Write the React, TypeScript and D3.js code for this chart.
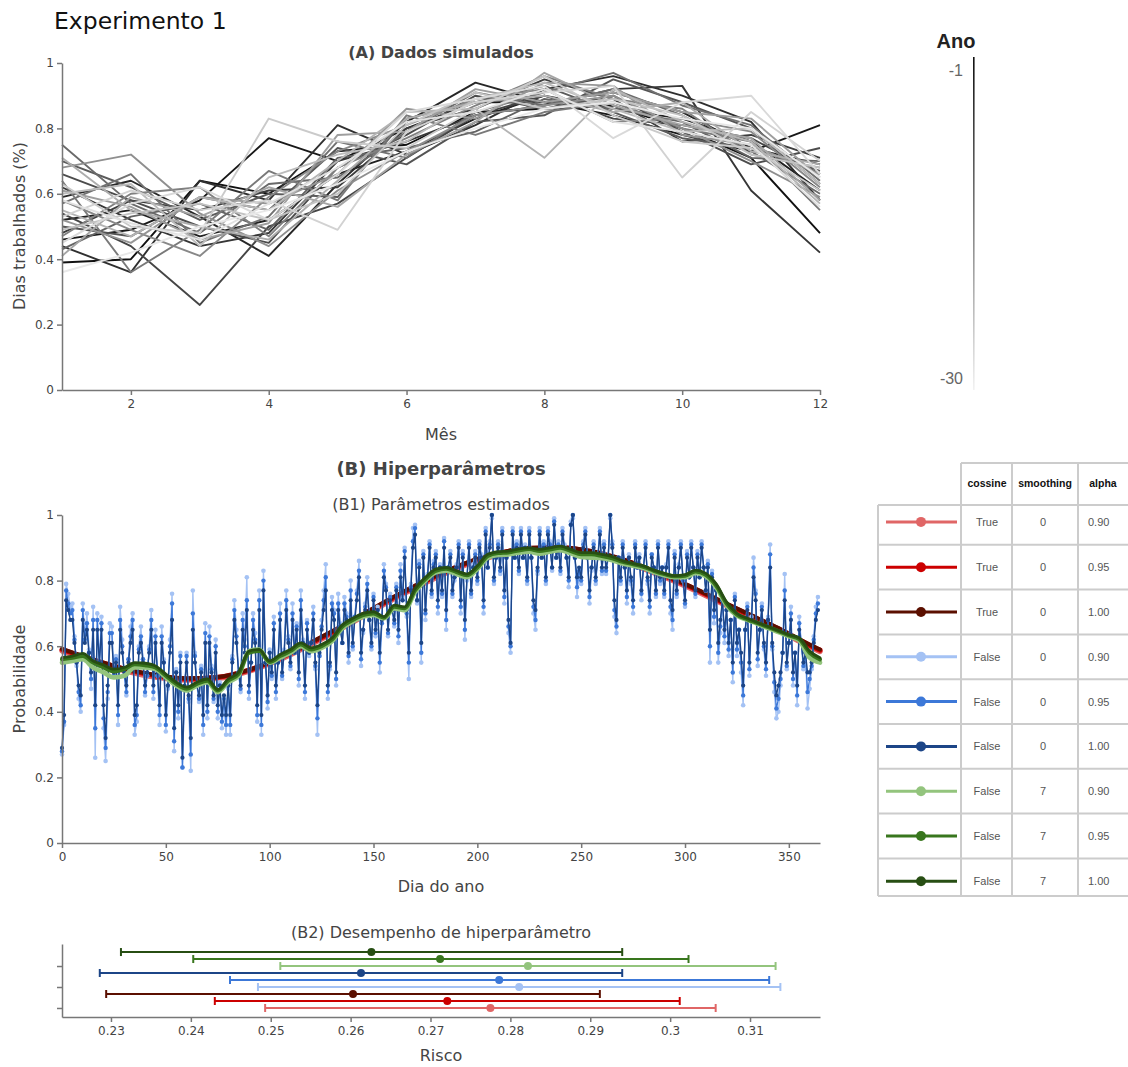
import React, { useEffect, useRef } from 'react';
import * as d3 from 'd3';

// ---------- panel A: simulated monthly data, one row per year (-1 .. -30), percent ----------
const months = [1, 2, 3, 4, 5, 6, 7, 8, 9, 10, 11, 12];
const simulatedYears = [
  [39, 40, 64, 60, 73, 75, 85, 86, 87, 80, 71, 48],
  [46, 49, 58, 77, 70, 80, 88, 88, 84, 78, 73, 81],
  [52, 55, 47, 52, 66, 73, 83, 90, 86, 83, 76, 61],
  [59, 64, 53, 41, 63, 82, 94, 88, 91, 85, 74, 69],
  [44, 36, 64, 58, 81, 72, 81, 92, 96, 90, 82, 58],
  [62, 52, 44, 48, 70, 76, 84, 87, 92, 93, 61, 42],
  [48, 58, 55, 61, 62, 80, 86, 95, 89, 76, 78, 71],
  [54, 44, 26, 50, 57, 71, 84, 90, 83, 81, 77, 66],
  [66, 58, 50, 45, 68, 78, 90, 86, 90, 79, 69, 74],
  [50, 47, 59, 55, 74, 69, 82, 84, 95, 88, 80, 63],
  [70, 62, 52, 60, 59, 83, 88, 93, 85, 77, 74, 67],
  [43, 53, 57, 49, 71, 74, 79, 89, 86, 82, 71, 70],
  [75, 57, 48, 63, 65, 79, 91, 87, 92, 84, 73, 60],
  [57, 66, 45, 53, 76, 71, 85, 91, 97, 87, 81, 64],
  [64, 36, 49, 67, 58, 84, 78, 85, 88, 80, 76, 55],
  [47, 60, 62, 47, 68, 77, 87, 96, 89, 86, 72, 68],
  [58, 49, 41, 59, 73, 81, 89, 92, 82, 83, 79, 62],
  [68, 72, 54, 44, 61, 73, 84, 87, 90, 80, 70, 59],
  [52, 45, 59, 57, 66, 86, 83, 94, 93, 78, 75, 66],
  [61, 56, 46, 51, 78, 79, 92, 88, 91, 85, 83, 65],
  [41, 59, 53, 62, 56, 72, 82, 97, 87, 81, 77, 58],
  [71, 55, 50, 46, 64, 83, 88, 90, 85, 88, 73, 69],
  [55, 47, 59, 55, 70, 85, 86, 71, 92, 82, 76, 57],
  [60, 63, 44, 65, 72, 76, 89, 94, 86, 79, 80, 63],
  [49, 54, 57, 52, 60, 81, 91, 86, 89, 84, 72, 68],
  [63, 50, 48, 83, 76, 74, 86, 96, 84, 76, 74, 61],
  [53, 61, 55, 58, 49, 79, 88, 91, 93, 65, 85, 70],
  [45, 57, 62, 52, 66, 85, 89, 93, 77, 88, 90, 66],
  [58, 51, 46, 57, 68, 82, 85, 92, 82, 79, 75, 56],
  [36, 42, 50, 55, 63, 73, 80, 86, 88, 83, 80, 65],
];

// ---------- panel B1: daily estimates (percent), index = day of year ----------
const blueDark = [
  29, 39, 74, 71, 68, 68, 61, 55, 48, 45, 68, 61, 65, 58, 52, 65, 42, 65, 55, 65,
  42, 32, 48, 61, 61, 52, 55, 42, 65, 58, 52, 48, 55, 61, 65, 39, 42, 58, 61, 55,
  48, 52, 58, 65, 48, 61, 52, 42, 61, 55, 39, 48, 58, 68, 35, 52, 42, 55, 26, 48,
  55, 45, 32, 65, 55, 48, 45, 52, 39, 61, 42, 61, 52, 45, 58, 42, 48, 39, 45, 39,
  48, 39, 55, 68, 61, 52, 48, 65, 58, 71, 48, 55, 65, 61, 42, 71, 39, 77, 55, 45,
  58, 52, 65, 48, 55, 68, 52, 58, 71, 61, 55, 68, 58, 65, 52, 71, 61, 48, 65, 58,
  61, 68, 55, 42, 58, 65, 71, 77, 48, 55, 71, 68, 52, 71, 65, 61, 71, 68, 58, 74,
  61, 68, 74, 81, 58, 65, 71, 77, 68, 61, 74, 65, 71, 58, 68, 81, 77, 65, 74, 71,
  68, 77, 65, 81, 74, 87, 71, 58, 77, 90, 94, 74, 84, 61, 87, 71, 81, 90, 77, 84,
  87, 74, 84, 77, 90, 71, 84, 87, 77, 81, 84, 90, 74, 87, 68, 81, 90, 77, 84, 87,
  81, 90, 87, 74, 94, 84, 90, 100, 81, 87, 90, 84, 94, 77, 87, 68, 61, 94, 87, 90,
  84, 94, 87, 90, 81, 94, 87, 74, 71, 84, 94, 87, 90, 81, 94, 90, 84, 97, 87, 90,
  84, 94, 90, 87, 81, 97, 100, 87, 81, 84, 81, 90, 94, 87, 77, 84, 90, 81, 87, 94,
  84, 90, 84, 87, 100, 90, 74, 68, 87, 81, 90, 84, 77, 87, 81, 74, 90, 84, 87, 77,
  84, 90, 81, 74, 87, 84, 77, 90, 81, 84, 77, 84, 90, 74, 71, 87, 77, 84, 90, 81,
  74, 87, 81, 90, 84, 77, 87, 81, 90, 84, 77, 84, 65, 81, 71, 77, 61, 68, 74, 65,
  71, 61, 68, 55, 74, 61, 65, 58, 48, 65, 71, 55, 68, 81, 74, 58, 65, 71, 61, 55,
  68, 84, 61, 52, 45, 48, 52, 58, 74, 55, 61, 68, 52, 58, 48, 65, 61, 55, 58, 52,
  52, 55, 61, 68, 71,
];
const blueMid = [
  28, 37, 77, 73, 70, 71, 62, 55, 46, 42, 71, 62, 67, 58, 50, 68, 35, 68, 55, 67,
  38, 29, 46, 64, 64, 51, 56, 39, 68, 60, 51, 46, 56, 63, 68, 36, 39, 59, 63, 56,
  46, 51, 59, 68, 46, 63, 51, 39, 63, 55, 36, 48, 60, 73, 31, 52, 40, 57, 23, 47,
  57, 44, 27, 70, 57, 48, 44, 53, 36, 64, 40, 63, 53, 44, 60, 40, 48, 37, 44, 36,
  48, 36, 56, 71, 63, 52, 47, 68, 60, 74, 46, 55, 68, 62, 39, 74, 36, 80, 55, 43,
  58, 51, 67, 46, 55, 70, 51, 58, 74, 62, 54, 70, 58, 66, 50, 74, 61, 46, 67, 58,
  61, 70, 54, 38, 57, 66, 74, 81, 46, 54, 73, 70, 50, 73, 66, 61, 73, 69, 57, 77,
  60, 69, 76, 83, 56, 65, 72, 79, 68, 60, 75, 64, 71, 55, 67, 83, 78, 64, 75, 71,
  67, 78, 63, 83, 74, 89, 70, 55, 78, 92, 96, 74, 85, 58, 88, 70, 81, 91, 76, 85,
  88, 72, 84, 76, 92, 68, 84, 88, 76, 81, 84, 91, 72, 88, 65, 81, 91, 76, 84, 88,
  80, 91, 87, 72, 95, 84, 91, 100, 80, 87, 91, 83, 95, 75, 87, 66, 60, 95, 87, 91,
  83, 95, 87, 90, 80, 95, 87, 72, 68, 83, 95, 87, 91, 80, 95, 91, 84, 98, 87, 91,
  83, 95, 90, 87, 80, 97, 100, 87, 78, 83, 80, 91, 95, 87, 75, 84, 91, 80, 87, 95,
  83, 91, 83, 87, 100, 91, 71, 66, 87, 80, 91, 84, 75, 87, 80, 72, 91, 84, 87, 76,
  84, 91, 80, 72, 88, 84, 76, 91, 80, 84, 76, 84, 91, 72, 68, 88, 76, 84, 91, 80,
  73, 88, 81, 91, 84, 76, 88, 81, 91, 84, 77, 85, 60, 82, 69, 77, 58, 66, 74, 63,
  71, 59, 68, 52, 75, 59, 65, 55, 45, 65, 72, 53, 68, 84, 76, 56, 65, 72, 60, 53,
  68, 88, 60, 49, 41, 44, 50, 58, 77, 54, 61, 70, 50, 58, 45, 67, 61, 54, 58, 46,
  50, 54, 62, 70, 73,
];
const blueLight = [
  27, 36, 79, 76, 72, 73, 63, 54, 44, 40, 73, 63, 70, 59, 47, 72, 26, 70, 54, 69,
  35, 25, 44, 67, 66, 51, 57, 36, 72, 62, 51, 45, 56, 66, 70, 33, 37, 60, 66, 56,
  45, 51, 60, 71, 44, 65, 51, 36, 66, 56, 34, 47, 62, 76, 28, 53, 38, 58, 23, 47,
  58, 43, 22, 77, 58, 48, 43, 54, 33, 67, 38, 66, 54, 43, 62, 38, 49, 35, 43, 33,
  47, 33, 57, 74, 65, 52, 46, 70, 62, 81, 44, 55, 70, 64, 37, 77, 33, 83, 55, 41,
  59, 50, 69, 44, 55, 73, 50, 59, 77, 63, 53, 73, 58, 67, 48, 77, 62, 44, 68, 57,
  61, 72, 53, 33, 57, 68, 77, 85, 44, 53, 75, 71, 48, 76, 67, 61, 75, 70, 55, 80,
  59, 69, 77, 86, 54, 64, 73, 81, 68, 59, 76, 63, 72, 52, 67, 85, 79, 63, 76, 71,
  66, 79, 61, 85, 75, 90, 69, 50, 79, 96, 97, 73, 86, 55, 89, 68, 82, 92, 75, 86,
  89, 70, 85, 75, 93, 65, 84, 89, 75, 80, 85, 92, 70, 89, 62, 80, 92, 75, 85, 89,
  79, 92, 88, 70, 96, 84, 92, 99, 79, 87, 92, 82, 96, 73, 87, 64, 58, 96, 87, 92,
  82, 96, 87, 91, 79, 96, 87, 70, 65, 82, 96, 87, 92, 79, 96, 92, 83, 99, 87, 92,
  82, 96, 91, 87, 78, 98, 99, 87, 75, 82, 79, 92, 96, 87, 73, 83, 92, 79, 87, 96,
  82, 92, 82, 87, 99, 92, 69, 64, 87, 79, 92, 84, 73, 88, 79, 70, 92, 84, 88, 74,
  84, 92, 79, 70, 88, 84, 75, 92, 79, 84, 75, 85, 92, 70, 65, 89, 75, 85, 92, 80,
  72, 89, 81, 92, 84, 75, 89, 81, 92, 84, 77, 86, 55, 83, 67, 77, 55, 64, 74, 61,
  71, 57, 68, 49, 76, 57, 65, 52, 42, 65, 73, 51, 69, 87, 77, 54, 65, 73, 59, 51,
  69, 91, 59, 46, 38, 40, 48, 58, 82, 53, 61, 72, 48, 58, 42, 69, 61, 53, 58, 41,
  47, 53, 63, 72, 75,
];

// smoothed (7 days) estimates, read every 5 days
const smoothDays = d3.range(0, 366, 5);
const greenDark = [
  56.5, 57, 57.8, 55.5, 54.3, 53, 53.5, 55, 54.8, 54, 51.5, 49, 47.5, 49, 50, 46.8, 50, 52, 58.5, 59,
  55.5, 57.5, 59, 61, 59.5, 60.5, 62.5, 66.5, 68.5, 70, 70.5, 69, 72.5, 72, 77.5, 81, 83.5, 84, 83, 82,
  84.5, 88, 88.8, 89, 89.7, 90, 89.5, 90, 90.5, 89.5, 88.5, 88.5, 88, 87.3, 86, 85.2, 84.5, 83.2, 82.2, 81.5,
  81.8, 83.2, 82.2, 79, 73.5, 70, 68.5, 67.2, 66, 64.8, 63.5, 62.5, 58.5, 56.5,
];
const greenMid = [
  56, 56.5, 57, 55, 53.5, 52.3, 53, 54.5, 54.2, 53.5, 51, 48.5, 47, 48.5, 49.5, 46.5, 49.5, 51.5, 58, 58.5,
  55.2, 57, 58.5, 60.5, 59, 60, 62, 66, 68, 69.5, 70, 68.7, 72, 71.6, 77, 80.5, 83, 83.6, 82.6, 81.6,
  84, 87.5, 88.4, 88.6, 89.2, 89.6, 89, 89.5, 90, 89, 88, 88, 87.5, 86.8, 85.7, 85, 84.2, 83, 82, 81.3,
  81.5, 82.8, 81.8, 78.5, 73, 69.6, 68.2, 67, 65.8, 64.6, 63.3, 62.2, 58, 56,
];
const greenLight = [
  55, 55.5, 56, 53.5, 52, 50.5, 51, 53.5, 53.5, 53, 50.5, 48, 46.5, 48, 49, 46, 49, 51, 58.5, 59,
  55, 56.5, 58, 60, 58.5, 59.5, 61.5, 65.5, 67.5, 69, 69.5, 68.5, 71.5, 71, 76.5, 80, 82.5, 83, 82, 81,
  83.5, 87, 87.8, 88, 88.5, 88.8, 88.2, 88.8, 89.3, 88.3, 87.2, 87, 86.8, 86.2, 85.2, 84.5, 83.8, 82.6, 81.6, 81,
  81, 82.3, 81.3, 78, 72.5, 69.3, 68, 66.8, 65.5, 64.3, 63, 61.8, 56.5, 55,
];

// cosine fits, read every 15 days
const cosDays = [0, 15, 30, 45, 60, 75, 90, 105, 120, 135, 150, 165, 180, 195, 210, 225, 240, 255, 270, 285, 300, 315, 330, 345, 360, 365];
const redDark = [59.2, 56, 53.2, 51.2, 50.2, 50.6, 52.8, 56.5, 61.2, 66.2, 71.6, 76.8, 81.5, 85.5, 88.4, 90, 90.2, 89, 86.5, 83, 79, 74.5, 70, 65.5, 60.5, 59];
const redMid = [59, 55.8, 53, 51, 50, 50.5, 52.7, 56.4, 61, 66, 71.4, 76.6, 81.3, 85.3, 88.2, 89.8, 90, 88.8, 86.3, 82.8, 78.8, 74.3, 69.8, 65.3, 60.3, 58.8];
const redLight = [58.6, 55.4, 52.6, 50.6, 49.7, 50.2, 52.4, 56, 60.6, 65.6, 71, 76.2, 80.9, 84.9, 87.8, 89.4, 89.6, 88.4, 85.9, 82.4, 78.4, 73.9, 69.4, 64.9, 59.9, 58.4];

// ---------- table / B2: hyperparameter combinations ----------
const cosineCol = ['True', 'True', 'True', 'False', 'False', 'False', 'False', 'False', 'False'];
const smoothingCol = ['0', '0', '0', '0', '0', '0', '7', '7', '7'];
const alphaCol = ['0.90', '0.95', '1.00', '0.90', '0.95', '1.00', '0.90', '0.95', '1.00'];
const seriesColors = ['#e06666', '#cc0000', '#5b0f00', '#a4c2f4', '#3c78d8', '#1c4587', '#93c47d', '#38761d', '#274e13'];
const riskLow = [0.2493, 0.2430, 0.2294, 0.2484, 0.2449, 0.2286, 0.2512, 0.2403, 0.23125];
const riskMean = [0.2775, 0.2721, 0.2603, 0.2811, 0.2786, 0.2613, 0.2822, 0.2712, 0.2626];
const riskHigh = [0.3057, 0.3012, 0.2912, 0.3138, 0.3124, 0.2940, 0.3132, 0.3023, 0.2940];
const riskGroup = [0, 0, 0, 1, 1, 1, 2, 2, 2];
const riskOffset = [0, 1 / 3, 2 / 3, 0, 1 / 3, 2 / 3, 0, 1 / 3, 2 / 3];

const FONT = '"DejaVu Sans", Verdana, sans-serif';
const ARIAL = '"Liberation Sans", Arial, sans-serif';
const AXIS = '#777';

const styleAxis = (g) => {
  g.select('.domain').attr('stroke', AXIS).attr('stroke-width', 1.5);
  g.selectAll('.tick line').attr('stroke', AXIS).attr('stroke-width', 1.5);
  g.selectAll('.tick text').attr('fill', '#444').style('font-family', FONT).style('font-size', '12px');
};

const App = () => {
  const svgRef = useRef(null);

  useEffect(() => {
    const svg = d3.select(svgRef.current);
    svg.selectAll('*').remove();

    const text = (x, y, s, size, opts: any = {}) =>
      svg.append('text')
        .attr('x', x).attr('y', y)
        .attr('text-anchor', opts.anchor || 'middle')
        .attr('fill', opts.fill || '#444')
        .attr('font-weight', opts.bold ? 'bold' : 'normal')
        .attr('transform', opts.rotate ? `rotate(-90, ${x}, ${y})` : null)
        .style('font-family', opts.font || FONT)
        .style('font-size', `${size}px`)
        .text(s);

    text(54, 29, 'Experimento 1', 23.5, { anchor: 'start', fill: '#111' });

    // ---------------- Panel A ----------------
    text(441, 58, '(A) Dados simulados', 16, { bold: true });
    const xA = d3.scaleLinear().domain([1, 12]).range([62, 820]);
    const yA = d3.scaleLinear().domain([0, 1]).range([390, 63]);
    const greyScale = d3.scaleLinear<string>().domain([1, 30]).range(['#111111', '#e8e8e8']).interpolate(d3.interpolateRgb);

    const lineA = d3.line<number>().x((_, i) => xA(months[i])).y(v => yA(v / 100));
    simulatedYears.forEach((row, k) => {
      svg.append('path')
        .attr('d', lineA(row))
        .attr('fill', 'none')
        .attr('stroke', greyScale(k + 1))
        .attr('stroke-width', 1.9)
        .attr('stroke-linejoin', 'round');
    });

    svg.append('g').attr('transform', 'translate(0,390)')
      .call(d3.axisBottom(xA).tickValues([2, 4, 6, 8, 10, 12]).tickSize(5).tickSizeOuter(0).tickPadding(4))
      .call(styleAxis);
    svg.append('g').attr('transform', 'translate(62,0)')
      .call(d3.axisLeft(yA).tickValues([0, 0.2, 0.4, 0.6, 0.8, 1]).tickFormat(d3.format('~g')).tickSize(5).tickSizeOuter(0).tickPadding(3))
      .call(styleAxis);
    text(441, 440, 'Mês', 16);
    text(25, 226, 'Dias trabalhados (%)', 16, { rotate: true });

    // colorbar
    const grad = svg.append('defs').append('linearGradient')
      .attr('id', 'anoGrad').attr('x1', 0).attr('y1', 0).attr('x2', 0).attr('y2', 1);
    grad.append('stop').attr('offset', '0%').attr('stop-color', greyScale(1));
    grad.append('stop').attr('offset', '100%').attr('stop-color', '#f2f2f2');
    const yBar = d3.scaleLinear().domain([-1, -30]).range([70, 378]);
    svg.append('rect').attr('x', 973).attr('y', 57).attr('width', 1.6).attr('height', 333).attr('fill', 'url(#anoGrad)');
    text(956, 48, 'Ano', 20, { bold: true, fill: '#222', font: ARIAL });
    [-1, -30].forEach(v => text(963, yBar(v) + 6, String(v), 16, { anchor: 'end', fill: '#666', font: ARIAL }));

    // ---------------- Panel B1 ----------------
    text(441, 475, '(B) Hiperparâmetros', 18, { bold: true });
    text(441, 510, '(B1) Parâmetros estimados', 16);
    const xB = d3.scaleLinear().domain([0, 365]).range([62, 820]);
    const yB = d3.scaleLinear().domain([0, 1]).range([843, 515]);

    const smoothLine = (days) => d3.line<number>().x((_, i) => xB(days[i])).y(v => yB(v / 100)).curve(d3.curveMonotoneX);
    const plot = svg.append('g');

    [[redLight, seriesColors[0], 5.5], [redMid, seriesColors[1], 5], [redDark, seriesColors[2], 4]].forEach(([vals, col, w]: any) => {
      plot.append('path').attr('d', smoothLine(cosDays)(vals))
        .attr('fill', 'none').attr('stroke', col).attr('stroke-width', w).attr('stroke-linecap', 'round');
    });

    const dailyLine = d3.line<number>().x((_, i) => xB(i)).y(v => yB(v / 100));
    [[blueLight, seriesColors[3], 1.4, 2.3], [blueMid, seriesColors[4], 1.3, 2.2], [blueDark, seriesColors[5], 1.3, 2.1]].forEach(([vals, col, w, r]: any) => {
      plot.append('path').attr('d', dailyLine(vals))
        .attr('fill', 'none').attr('stroke', col).attr('stroke-width', w).attr('stroke-linejoin', 'round');
      plot.append('g').selectAll('circle').data(vals).join('circle')
        .attr('cx', (_, i) => xB(i)).attr('cy', (v: number) => yB(v / 100)).attr('r', r).attr('fill', col);
    });

    [[greenLight, seriesColors[6], 4.6], [greenMid, seriesColors[7], 4], [greenDark, seriesColors[8], 2.8]].forEach(([vals, col, w]: any) => {
      plot.append('path').attr('d', smoothLine(smoothDays)(vals))
        .attr('fill', 'none').attr('stroke', col).attr('stroke-width', w).attr('stroke-linecap', 'round').attr('stroke-linejoin', 'round');
    });

    svg.append('g').attr('transform', 'translate(0,843)')
      .call(d3.axisBottom(xB).tickValues(d3.range(0, 351, 50)).tickSize(5).tickSizeOuter(0).tickPadding(4))
      .call(styleAxis);
    svg.append('g').attr('transform', 'translate(62,0)')
      .call(d3.axisLeft(yB).tickValues([0, 0.2, 0.4, 0.6, 0.8, 1]).tickFormat(d3.format('~g')).tickSize(5).tickSizeOuter(0).tickPadding(3))
      .call(styleAxis);
    text(441, 892, 'Dia do ano', 16);
    text(25, 679, 'Probabilidade', 16, { rotate: true });

    // ---------------- Table ----------------
    const rowTop = (i) => (i === 0 ? 505 : 500 + 44.8 * i);
    const rowBottom = (i) => (i === 8 ? 896 : 500 + 44.8 * (i + 1));
    const border = '#cccccc';
    const tline = (x1, y1, x2, y2) => svg.append('line').attr('x1', x1).attr('y1', y1).attr('x2', x2).attr('y2', y2)
      .attr('stroke', border).attr('stroke-width', 2);
    tline(961, 463, 1128, 463);
    for (let i = 0; i <= 9; i++) {
      const y = i === 9 ? rowBottom(8) : rowTop(i);
      tline(878, y, 1128, y);
    }
    tline(878, 505, 878, 896);
    [961, 1012, 1078].forEach(x => tline(x, 463, x, 896));
    [['cossine', 987], ['smoothing', 1045], ['alpha', 1103]].forEach(([s, x]: any) =>
      text(x, 487, s, 10.5, { bold: true, fill: '#111', font: ARIAL }));
    seriesColors.forEach((col, i) => {
      const cy = (rowTop(i) + rowBottom(i)) / 2 - (i === 0 ? 3 : i === 8 ? -4 : 0);
      svg.append('line').attr('x1', 886).attr('x2', 957).attr('y1', cy).attr('y2', cy)
        .attr('stroke', col).attr('stroke-width', 3);
      svg.append('circle').attr('cx', 921).attr('cy', cy).attr('r', 5).attr('fill', col);
      text(987, cy + 4, cosineCol[i], 11, { fill: '#555', font: ARIAL });
      text(1043, cy + 4, smoothingCol[i], 11, { fill: '#555', font: ARIAL });
      text(1088, cy + 4, alphaCol[i], 11, { anchor: 'start', fill: '#555', font: ARIAL });
    });

    // ---------------- Panel B2 ----------------
    text(441, 938, '(B2) Desempenho de hiperparâmetro', 16);
    const xR = d3.scaleLinear().domain([0.22387, 0.31876]).range([62, 820]);
    const yR = d3.scaleLinear().domain([-0.43, 3.05]).range([1017, 944]);
    seriesColors.forEach((col, i) => {
      const y = yR(riskGroup[i] + riskOffset[i]);
      const g = svg.append('g').attr('stroke', col).attr('stroke-width', 2);
      g.append('line').attr('x1', xR(riskLow[i])).attr('x2', xR(riskHigh[i])).attr('y1', y).attr('y2', y);
      [riskLow[i], riskHigh[i]].forEach(v =>
        g.append('line').attr('x1', xR(v)).attr('x2', xR(v)).attr('y1', y - 4).attr('y2', y + 4));
      svg.append('circle').attr('cx', xR(riskMean[i])).attr('cy', y).attr('r', 4).attr('fill', col);
    });
    svg.append('g').attr('transform', 'translate(0,1017)')
      .call(d3.axisBottom(xR).tickValues([0.23, 0.24, 0.25, 0.26, 0.27, 0.28, 0.29, 0.3, 0.31]).tickFormat(d3.format('~g')).tickSize(5).tickSizeOuter(0).tickPadding(4))
      .call(styleAxis);
    svg.append('g').attr('transform', 'translate(62,0)')
      .call(d3.axisLeft(yR).tickValues([0, 1, 2]).tickFormat(() => '').tickSize(5).tickSizeOuter(0))
      .call(styleAxis);
    text(441, 1061, 'Risco', 16);
  }, []);

  return (
    <div style={{ position: 'absolute', left: 0, top: 0 }}>
      <svg ref={svgRef} width={1128} height={1067} style={{ display: 'block', background: '#fff' }}></svg>
    </div>
  );
};

export default App;
